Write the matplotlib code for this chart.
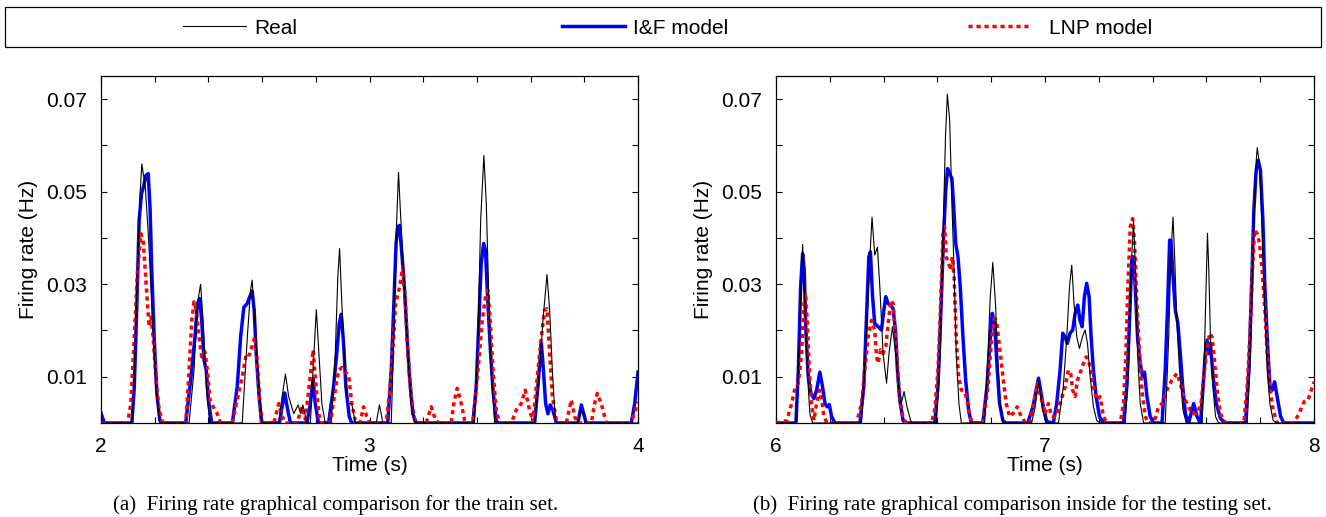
import matplotlib
matplotlib.use("Agg")
import matplotlib.pyplot as plt
from matplotlib.patches import Rectangle
from matplotlib.lines import Line2D
import numpy as np

# firing-rate curves, as (time s, rate) vertices

# (a) train set, 2..4 s
train_real = [
    (2.0, 0), (2.111, 0), (2.118, 0.001), (2.136, 0.033), (2.145, 0.049), (2.152, 0.056), (2.165, 0.051),
    (2.177, 0.040), (2.192, 0.022), (2.204, 0.008), (2.219, 0),
    (2.328, 0), (2.3465, 0.0114), (2.359, 0.0258), (2.371, 0.030), (2.381, 0.0215), (2.392, 0.0078), (2.405, 0),
    (2.526, 0), (2.545, 0.0186), (2.557, 0.0287), (2.563, 0.0309), (2.5755, 0.020), (2.588, 0.0078), (2.600, 0),
    (2.662, 0), (2.6745, 0.0057), (2.687, 0.0106), (2.699, 0.0057), (2.718, 0.002), (2.734, 0.0039),
    (2.744, 0.002), (2.752, 0.0039), (2.767, 0),
    (2.78, 0), (2.7895, 0.0114), (2.802, 0.0245), (2.813, 0.0136), (2.823, 0.004), (2.835, 0),
    (2.8577, 0), (2.8725, 0.015), (2.882, 0.0316), (2.8886, 0.0377), (2.897, 0.0258), (2.9097, 0.0114),
    (2.9196, 0.0042), (2.934, 0.0042), (2.947, 0),
    (3.025, 0), (3.037, 0.0039), (3.05, 0),
    (3.081, 0), (3.0907, 0.0186), (3.099, 0.0402), (3.108, 0.0542), (3.118, 0.0424), (3.13, 0.0294),
    (3.143, 0.015), (3.155, 0.0042), (3.168, 0),
    (3.391, 0), (3.404, 0.0186), (3.414, 0.0438), (3.426, 0.0578), (3.435, 0.0474), (3.445, 0.0258),
    (3.453, 0.0114), (3.466, 0),
    (3.615, 0), (3.6335, 0.0114), (3.646, 0.0222), (3.661, 0.0321), (3.671, 0.0244), (3.681, 0.0114), (3.693, 0),
    (3.776, 0), (3.789, 0.003), (3.807, 0),
    (4.0, 0),
]
train_if = [
    (2.0, 0.0022), (2.012, 0), (2.115, 0), (2.124, 0.0078), (2.1337, 0.0258), (2.142, 0.0438), (2.151, 0.0496),
    (2.158, 0.051), (2.167, 0.0535), (2.1757, 0.0539), (2.183, 0.046), (2.189, 0.033), (2.198, 0.0186),
    (2.208, 0.0064), (2.219, 0.0006), (2.229, 0),
    (2.3156, 0), (2.334, 0.0093), (2.35, 0.0186), (2.359, 0.0258), (2.3676, 0.0269), (2.375, 0.0222),
    (2.3837, 0.0136), (2.392, 0.0114), (2.4, 0.005), (2.412, 0),
    (2.489, 0), (2.5074, 0.0078), (2.52, 0.0186), (2.532, 0.025), (2.5446, 0.0258), (2.554, 0.0273),
    (2.563, 0.0285), (2.5705, 0.0244), (2.578, 0.015), (2.588, 0.0064), (2.598, 0),
    (2.6646, 0), (2.6745, 0.0035), (2.6844, 0.0065), (2.6955, 0.0028), (2.7054, 0),
    (2.767, 0), (2.7797, 0.0042), (2.79, 0.0096), (2.798, 0.0042), (2.81, 0),
    (2.8477, 0), (2.866, 0.0078), (2.878, 0.015), (2.887, 0.0215), (2.8948, 0.0235), (2.9035, 0.0172),
    (2.912, 0.0078), (2.9245, 0.0014), (2.934, 0),
    (3.068, 0), (3.081, 0.0114), (3.0907, 0.0258), (3.099, 0.0388), (3.1056, 0.0424), (3.112, 0.0427),
    (3.1205, 0.0366), (3.13, 0.0294), (3.14, 0.0186), (3.149, 0.01), (3.1615, 0.002), (3.174, 0),
    (3.385, 0), (3.3975, 0.0078), (3.4075, 0.0222), (3.416, 0.0345), (3.425, 0.0388), (3.432, 0.0373),
    (3.441, 0.0258), (3.451, 0.015), (3.46, 0.0071), (3.472, 0.0005), (3.48, 0),
    (3.615, 0), (3.627, 0.0078), (3.64, 0.0172), (3.646, 0.0129), (3.656, 0.0042), (3.6646, 0.002),
    (3.673, 0.0039), (3.683, 0.0028), (3.696, 0),
    (3.776, 0), (3.789, 0.0039), (3.807, 0),
    (3.975, 0), (3.9876, 0.0042), (4.0, 0.011),
]
train_lnp = [
    (2.0, 0), (2.099, 0), (2.111, 0.0042), (2.124, 0.0186), (2.136, 0.033), (2.149, 0.0409), (2.157, 0.0395),
    (2.1646, 0.033), (2.173, 0.0258), (2.179, 0.0208), (2.187, 0.0229), (2.194, 0.0186), (2.204, 0.01),
    (2.2166, 0.0028), (2.231, 0),
    (2.3156, 0), (2.328, 0.0114), (2.338, 0.0222), (2.3465, 0.0262), (2.355, 0.0244), (2.365, 0.0186),
    (2.375, 0.0143), (2.387, 0.0154), (2.396, 0.0114), (2.406, 0.005), (2.418, 0.0035), (2.433, 0.002), (2.4455, 0),
    (2.489, 0), (2.5074, 0.005), (2.526, 0.01), (2.541, 0.015), (2.553, 0.0147), (2.5656, 0.0172),
    (2.573, 0.0186), (2.5817, 0.0136), (2.59, 0.0057), (2.6, 0),
    (2.6436, 0), (2.662, 0.0042), (2.6745, 0.0014), (2.687, 0),
    (2.73, 0), (2.749, 0.0035), (2.761, 0.0008),
    (2.7735, 0.0071), (2.79, 0.0158), (2.802, 0.0071), (2.813, 0.0014), (2.823, 0),
    (2.854, 0), (2.8725, 0.0071), (2.885, 0.0114), (2.897, 0.012), (2.9097, 0.011), (2.922, 0.0104),
    (2.934, 0.0042), (2.947, 0.0006),
    (2.965, 0), (2.9777, 0.0035), (2.99, 0.0014), (3.0, 0),
    (3.062, 0), (3.081, 0.01), (3.097, 0.0258), (3.112, 0.0294), (3.124, 0.0337), (3.134, 0.0258),
    (3.143, 0.015), (3.155, 0.0057), (3.168, 0.0006), (3.18, 0),
    (3.211, 0), (3.23, 0.0035), (3.246, 0.0006), (3.26, 0),
    (3.304, 0), (3.314, 0.0042), (3.3267, 0.0075), (3.342, 0.0042), (3.354, 0.0006), (3.365, 0),
    (3.385, 0), (3.404, 0.0114), (3.42, 0.0222), (3.432, 0.0273), (3.441, 0.0287), (3.45, 0.0215),
    (3.46, 0.0114), (3.472, 0.0028), (3.484, 0),
    (3.528, 0), (3.5466, 0.0028), (3.565, 0.0042), (3.58, 0.0071), (3.596, 0.0028), (3.609, 0.0003),
    (3.621, 0.0078), (3.64, 0.0186), (3.652, 0.0244), (3.661, 0.0247), (3.671, 0.015), (3.681, 0.0057),
    (3.696, 0.0006), (3.705, 0),
    (3.733, 0), (3.7516, 0.005), (3.764, 0.0014), (3.775, 0),
    (3.826, 0), (3.8385, 0.0042), (3.8485, 0.0064), (3.863, 0.0042), (3.882, 0),
    (3.975, 0), (4.0, 0.0046),
]

# (b) testing set, 6..8 s
test_real = [
    (6.0, 0), (6.07, 0), (6.077, 0.0004), (6.089, 0.0222), (6.099, 0.0386), (6.1076, 0.0258), (6.116, 0.0114),
    (6.126, 0.002), (6.136, 0),
    (6.318, 0), (6.336, 0.0186), (6.349, 0.0359), (6.357, 0.0445), (6.367, 0.0363), (6.377, 0.038),
    (6.386, 0.0294), (6.398, 0.015), (6.411, 0.0086), (6.42, 0.015), (6.433, 0.0208), (6.445, 0.015),
    (6.4576, 0.0071), (6.466, 0.0042), (6.476, 0.0068), (6.487, 0.0035), (6.503, 0),
    (6.596, 0), (6.611, 0.015), (6.621, 0.0402), (6.63, 0.0618), (6.637, 0.0711), (6.6456, 0.0654),
    (6.654, 0.0474), (6.662, 0.033), (6.67, 0.015), (6.68, 0.0042), (6.689, 0),
    (6.7755, 0), (6.788, 0.015), (6.7965, 0.0273), (6.806, 0.0347), (6.816, 0.0258), (6.825, 0.0129),
    (6.8336, 0.0042), (6.8435, 0),
    (6.95, 0), (6.962, 0.003), (6.977, 0.009), (6.99, 0.003), (7.005, 0),
    (7.05, 0), (7.068, 0.0078), (7.081, 0.0186), (7.091, 0.0294), (7.0994, 0.0341), (7.108, 0.0258),
    (7.118, 0.0186), (7.128, 0.0161), (7.139, 0.0186), (7.149, 0.0201), (7.158, 0.0172), (7.168, 0.01),
    (7.18, 0.0035), (7.1925, 0.0005), (7.205, 0),
    (7.298, 0), (7.3106, 0.0114), (7.32, 0.033), (7.329, 0.0438), (7.3366, 0.033), (7.344, 0.015),
    (7.354, 0.0042), (7.3665, 0),
    (7.447, 0), (7.46, 0.0186), (7.468, 0.0366), (7.476, 0.0445), (7.482, 0.0359), (7.49, 0.0222),
    (7.5, 0.0114), (7.513, 0.0028), (7.525, 0),
    (7.584, 0), (7.5925, 0.015), (7.5988, 0.0294), (7.604, 0.041), (7.609, 0.033), (7.615, 0.0186),
    (7.624, 0.0078), (7.634, 0.0014), (7.645, 0),
    (7.7516, 0), (7.764, 0.015), (7.774, 0.0366), (7.7826, 0.0546), (7.789, 0.0595), (7.7975, 0.056),
    (7.806, 0.0438), (7.816, 0.0258), (7.826, 0.0114), (7.836, 0.0042), (7.848, 0.0006), (7.86, 0),
    (8.0, 0),
]
test_if = [
    (6.0, 0), (6.074, 0), (6.083, 0.0114), (6.0915, 0.0294), (6.099, 0.0366), (6.105, 0.033), (6.111, 0.0201),
    (6.12, 0.01), (6.13, 0.0064), (6.141, 0.0053), (6.151, 0.0071), (6.163, 0.011), (6.173, 0.0078),
    (6.182, 0.0042), (6.19, 0.0035), (6.198, 0.004), (6.2066, 0.0014), (6.219, 0),
    (6.312, 0), (6.3265, 0.0078), (6.336, 0.0222), (6.345, 0.0359), (6.351, 0.037), (6.359, 0.0273),
    (6.367, 0.0215), (6.38, 0.0208), (6.392, 0.0201), (6.401, 0.0244), (6.408, 0.0273), (6.417, 0.0258),
    (6.4255, 0.0255), (6.4354, 0.0247), (6.444, 0.0201), (6.4515, 0.0114), (6.46, 0.005), (6.4725, 0.0005), (6.485, 0),
    (6.59, 0), (6.602, 0.0078), (6.614, 0.0258), (6.623, 0.0402), (6.631, 0.0503), (6.638, 0.055),
    (6.6456, 0.0539), (6.654, 0.0528), (6.66, 0.0474), (6.668, 0.0388), (6.6766, 0.0359), (6.685, 0.0294),
    (6.695, 0.0186), (6.705, 0.0093), (6.716, 0.0028), (6.726, 0),
    (6.769, 0), (6.784, 0.0078), (6.7965, 0.0186), (6.804, 0.0237), (6.8126, 0.0215), (6.821, 0.0129),
    (6.831, 0.0042), (6.8435, 0.0005), (6.855, 0),
    (6.936, 0), (6.955, 0.0035), (6.976, 0.0097), (6.994, 0.0035), (7.006, 0.0003), (7.031, 0),
    (7.0435, 0.0042), (7.056, 0.0114), (7.066, 0.0194), (7.0745, 0.0186), (7.083, 0.0172), (7.093, 0.0194),
    (7.103, 0.0201), (7.112, 0.0237), (7.122, 0.0255), (7.13, 0.0222), (7.138, 0.0208), (7.1466, 0.0273),
    (7.155, 0.0302), (7.164, 0.0273), (7.1714, 0.0186), (7.18, 0.0114), (7.19, 0.0057), (7.2025, 0.0014), (7.217, 0),
    (7.292, 0), (7.304, 0.0078), (7.3143, 0.0222), (7.323, 0.0359), (7.329, 0.0359), (7.3354, 0.0294),
    (7.344, 0.0186), (7.354, 0.0129), (7.363, 0.01), (7.37, 0.011), (7.379, 0.0057), (7.391, 0.0014), (7.404, 0),
    (7.435, 0), (7.447, 0.0114), (7.456, 0.0258), (7.4634, 0.0395), (7.468, 0.0395), (7.476, 0.0316),
    (7.4845, 0.0244), (7.494, 0.0215), (7.503, 0.015), (7.512, 0.0078), (7.522, 0.002), (7.534, 0),
    (7.54, 0.0014), (7.553, 0.0042), (7.565, 0.0014), (7.578, 0),
    (7.5876, 0.0078), (7.596, 0.015), (7.6025, 0.0179), (7.609, 0.015), (7.615, 0.0172), (7.625, 0.01),
    (7.637, 0.0042), (7.652, 0.001), (7.671, 0),
    (7.745, 0), (7.758, 0.0114), (7.768, 0.0294), (7.7764, 0.046), (7.785, 0.0546), (7.7926, 0.0568),
    (7.801, 0.0546), (7.81, 0.0438), (7.8174, 0.0294), (7.826, 0.0186), (7.836, 0.0078), (7.845, 0.0071),
    (7.8534, 0.0089), (7.863, 0.0057), (7.876, 0.0014), (7.888, 0),
    (8.0, 0),
]
test_lnp = [
    (6.0, 0), (6.04, 0.0005), (6.058, 0.0042), (6.0705, 0.0075), (6.083, 0.0086), (6.095, 0.015), (6.104, 0.0258),
    (6.11, 0.028), (6.116, 0.0222), (6.124, 0.0114), (6.132, 0.0042), (6.141, 0.0006), (6.151, 0.0042),
    (6.161, 0.0071), (6.17, 0.005), (6.178, 0.0014), (6.19, 0),
    (6.2995, 0), (6.318, 0.0042), (6.33, 0.0114), (6.3426, 0.0186), (6.355, 0.0222), (6.367, 0.0201),
    (6.3735, 0.0143), (6.38, 0.0129), (6.3884, 0.0158), (6.398, 0.015), (6.408, 0.0165), (6.417, 0.0215),
    (6.427, 0.0265), (6.4354, 0.0258), (6.445, 0.0186), (6.454, 0.01), (6.4626, 0.0042), (6.4725, 0.001), (6.485, 0),
    (6.578, 0), (6.59, 0.0028), (6.602, 0.0114), (6.612, 0.0258), (6.621, 0.0417), (6.627, 0.0424),
    (6.633, 0.0359), (6.642, 0.0345), (6.649, 0.033), (6.6555, 0.0359), (6.662, 0.0316), (6.67, 0.0186),
    (6.679, 0.01), (6.689, 0.0071), (6.701, 0.0068), (6.71, 0.005), (6.72, 0.0014), (6.732, 0),
    (6.769, 0), (6.788, 0.0078), (6.8, 0.0172), (6.8126, 0.0226), (6.821, 0.0215), (6.831, 0.0165),
    (6.8435, 0.01), (6.856, 0.0042), (6.868, 0.0014), (6.88, 0.002), (6.8967, 0.0035), (6.9116, 0.0014), (6.928, 0),
    (6.9425, 0), (6.961, 0.005), (6.972, 0.0085), (6.9876, 0.005), (7.0, 0.002), (7.0124, 0.0042),
    (7.025, 0.0014), (7.041, 0.0014),
    (7.056, 0.0042), (7.0745, 0.0078), (7.087, 0.0114), (7.0956, 0.0107), (7.103, 0.0071), (7.112, 0.0057),
    (7.1205, 0.0093), (7.13, 0.0107), (7.143, 0.0129), (7.153, 0.0143), (7.1615, 0.0136), (7.17, 0.0114),
    (7.18, 0.0078), (7.1925, 0.005), (7.205, 0.0057), (7.2174, 0.0014), (7.23, 0),
    (7.2795, 0), (7.292, 0.0042), (7.3006, 0.015), (7.308, 0.0294), (7.3168, 0.0424), (7.3255, 0.0442),
    (7.333, 0.0388), (7.3416, 0.0258), (7.3516, 0.015), (7.36, 0.0071), (7.3727, 0.0014), (7.385, 0),
    (7.404, 0), (7.4224, 0.0035), (7.435, 0.0042), (7.4534, 0.0071), (7.472, 0.0093), (7.49, 0.0107),
    (7.503, 0.0086), (7.5155, 0.0057), (7.534, 0.0035), (7.5466, 0.002), (7.565, 0.002), (7.58, 0.0042),
    (7.59, 0.01), (7.6025, 0.0158), (7.612, 0.0194), (7.621, 0.0186), (7.63, 0.0136), (7.64, 0.0071),
    (7.652, 0.002), (7.671, 0),
    (7.739, 0), (7.7516, 0.0078), (7.7615, 0.0186), (7.77, 0.0316), (7.779, 0.0417), (7.789, 0.0409),
    (7.7975, 0.0388), (7.807, 0.033), (7.8174, 0.0244), (7.826, 0.015), (7.836, 0.0078), (7.848, 0.0028), (7.863, 0),
    (7.925, 0), (7.944, 0.002), (7.963, 0.0046), (7.978, 0.005), (8.0, 0.0089),
]

yticks = [0.01, 0.02, 0.03, 0.04, 0.05, 0.06, 0.07]
ytick_labels = ['0.01', '', '0.03', '', '0.05', '', '0.07']
captions = ['(a)  Firing rate graphical comparison for the train set.',
            '(b)  Firing rate graphical comparison inside for the testing set.']

plt.rcParams['font.family'] = ['Liberation Sans', 'DejaVu Sans']

W, H = 1326, 517
fig = plt.figure(figsize=(W / 100, H / 100), dpi=100)

def px_axes(x0, x1, y0, y1):
    return fig.add_axes([x0 / W, 1 - y1 / H, (x1 - x0) / W, (y1 - y0) / H])

ax1 = px_axes(101, 638, 76, 423)
ax2 = px_axes(776, 1314, 76, 423)

real_style = dict(color='black', lw=0.8, zorder=4)
if_style = dict(color='#0000ff', lw=2.5, zorder=2, solid_joinstyle='round')
lnp_style = dict(color='#ff0000', lw=2.5, ls=(0, (1.2, 1.1)), zorder=3)

def draw(ax, real, iff, lnp, t0):
    for data, st in ((iff, if_style), (lnp, lnp_style), (real, real_style)):
        t, y = np.array(data).T
        ax.plot(t, y, **st)
    ax.set_xlim(t0, t0 + 2)
    ax.set_ylim(0, 0.075)
    xt = np.round(np.arange(t0, t0 + 2.001, 0.2), 1)
    ax.set_xticks(xt)
    ax.set_xticklabels([str(int(v)) if abs(v - round(v)) < 1e-6 else '' for v in xt])
    ax.set_yticks(yticks)
    ax.set_yticklabels(ytick_labels)
    ax.tick_params(direction='in', top=True, right=True, length=4, width=0.8,
                   labelsize=15, pad=10)
    for s in ax.spines.values():
        s.set_linewidth(0.9)
    ax.set_xlabel('Time (s)', fontsize=15, labelpad=0)
    ax.set_ylabel('Firing rate (Hz)', fontsize=15, labelpad=6)

draw(ax1, train_real, train_if, train_lnp, 2)
draw(ax2, test_real, test_if, test_lnp, 6)

fig.text(113 / W, 1 - 505 / H, captions[0], ha='left', va='center',
         family='Liberation Serif', fontsize=15)
fig.text(1272 / W, 1 - 505 / H, captions[1], ha='right', va='center',
         family='Liberation Serif', fontsize=15)

# legend box across the top
fig.patches.append(Rectangle((5 / W, 1 - 47 / H), 1316 / W, 40 / H, transform=fig.transFigure,
                             fill=False, lw=0.9, color='black'))
entries = [('Real', real_style, 183, 0.4), ('I&F model', if_style, 562, 0.4),
           ('LNP model', lnp_style, 968, 0.9)]
for label, st, x0, gap in entries:
    h = Line2D([], [], **{k: v for k, v in st.items() if k != 'zorder'})
    fig.legend([h], [label], loc='center left', bbox_to_anchor=(x0 / W, 1 - 28 / H),
               frameon=False, fontsize=15, handlelength=3.0, handletextpad=gap,
               borderpad=0, borderaxespad=0)

fig.savefig('out.png', dpi=100)
